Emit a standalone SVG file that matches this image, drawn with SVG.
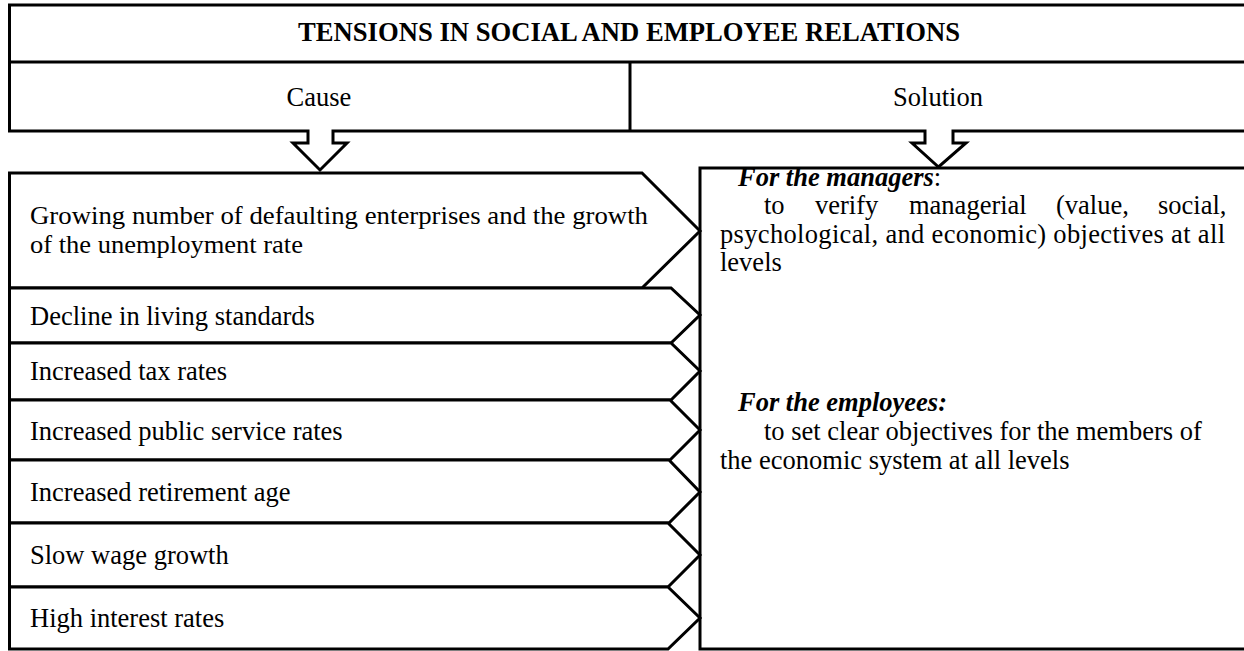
<svg xmlns="http://www.w3.org/2000/svg" width="1244" height="651" viewBox="0 0 1244 651">
  <style>
    .ln { fill: #fff; stroke: #000; stroke-width: 3; stroke-linejoin: miter; }
    .open { fill: none; stroke: #000; stroke-width: 3; }
    .t { font-family: "Liberation Serif", "Times New Roman", serif; font-size: 26.5px; fill: #000; }
    .tight { font-size: 25.5px; }
    .title { font-weight: bold; }
    .bi { font-weight: bold; font-style: italic; }
    .c { text-anchor: middle; }
  </style>
  <rect width="1244" height="651" fill="#fff"/>

  <!-- header frame -->
  <g id="header">
    <path class="open" d="M1250,5 H9.5 V131"/>
    <line class="open" x1="9.5" y1="62" x2="1250" y2="62"/>
    <line class="open" x1="630" y1="62" x2="630" y2="131"/>
    <text class="t title c" x="629" y="41" textLength="662" lengthAdjust="spacingAndGlyphs">TENSIONS IN SOCIAL AND EMPLOYEE RELATIONS</text>
  </g>
  <g id="cause-label">
    <text class="t c" x="319" y="106">Cause</text>
  </g>
  <g id="solution-label">
    <text class="t c" x="938" y="106">Solution</text>
  </g>

  <!-- block arrows running out of the header's lower edge -->
  <g id="connectors">
    <path class="open" d="M8,131 H308 V143 H293 L320,170 L347,143 H333 V131 H925 V143 H912 L938.5,167 L966,143 H953 V131 H1250"/>
  </g>

  <!-- solution panel -->
  <g id="solution">
    <rect class="ln" x="700" y="168" width="560" height="481"/>
    <text class="t" x="738" y="186"><tspan class="bi">For the managers</tspan>:</text>
    <text class="t" y="214">
      <tspan x="764">to</tspan><tspan x="815">verify</tspan><tspan x="909">managerial</tspan><tspan x="1056">(value,</tspan><tspan x="1158">social,</tspan>
    </text>
    <text class="t" x="720" y="243" textLength="505" lengthAdjust="spacing">psychological, and economic) objectives at all</text>
    <text class="t" x="720" y="271">levels</text>
    <text class="t" x="738" y="411"><tspan class="bi">For the employees:</tspan></text>
    <text class="t" x="764" y="440">to set clear objectives for the members of</text>
    <text class="t" x="720" y="469">the economic system at all levels</text>
  </g>

  <!-- cause items -->
  <g id="cause-1">
    <polygon class="ln" points="9.5,173 642,173 700,231 642,288 9.5,288"/>
    <text class="t tight" x="30" y="224" textLength="618" lengthAdjust="spacingAndGlyphs">Growing number of defaulting enterprises and the growth</text>
    <text class="t tight" x="30" y="253" textLength="273" lengthAdjust="spacingAndGlyphs">of the unemployment rate</text>
  </g>
  <g id="cause-2">
    <polygon class="ln" points="9.5,288 671,288 700,315 671,343 9.5,343"/>
    <text class="t" x="30" y="325">Decline in living standards</text>
  </g>
  <g id="cause-3">
    <polygon class="ln" points="9.5,343 671,343 700,371 671,400 9.5,400"/>
    <text class="t" x="30" y="380">Increased tax rates</text>
  </g>
  <g id="cause-4">
    <polygon class="ln" points="9.5,400 670,400 700,430 670,460 9.5,460"/>
    <text class="t" x="30" y="440">Increased public service rates</text>
  </g>
  <g id="cause-5">
    <polygon class="ln" points="9.5,460 669,460 700,492 669,523 9.5,523"/>
    <text class="t" x="30" y="501">Increased retirement age</text>
  </g>
  <g id="cause-6">
    <polygon class="ln" points="9.5,523 668,523 700,555 668,587 9.5,587"/>
    <text class="t" x="30" y="564">Slow wage growth</text>
  </g>
  <g id="cause-7">
    <polygon class="ln" points="9.5,587 668,587 700,618 668,649 9.5,649"/>
    <text class="t" x="30" y="627">High interest rates</text>
  </g>
</svg>
